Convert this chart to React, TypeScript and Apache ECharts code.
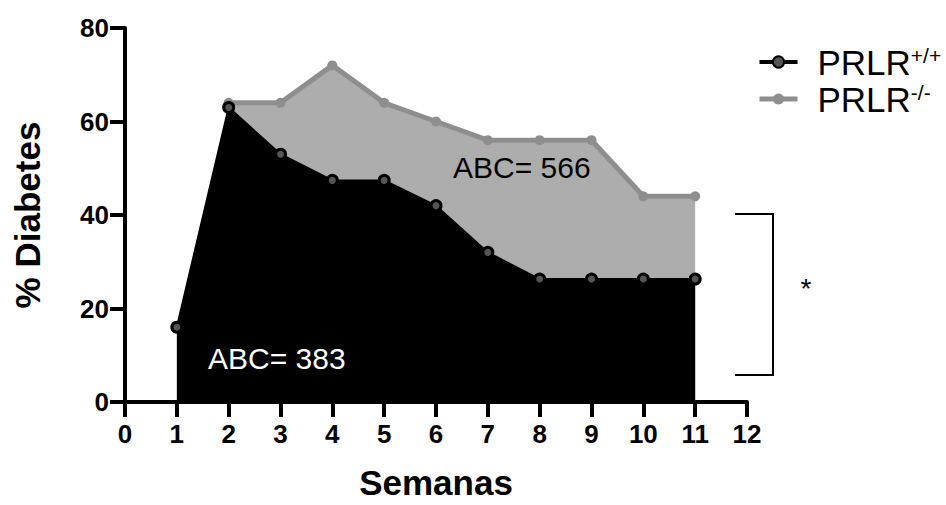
import React, { useEffect, useRef } from "react";
import * as echarts from "echarts";

const weeksWT = [1, 2, 3, 4, 5, 6, 7, 8, 9, 10, 11];
const valuesWT = [16, 63, 53, 47.4, 47.4, 42, 32, 26.3, 26.3, 26.3, 26.3];
const weeksKO = [2, 3, 4, 5, 6, 7, 8, 9, 10, 11];
const valuesKO = [64, 64, 72, 64, 60, 56, 56, 56, 44, 44];
const xTicks = [0, 1, 2, 3, 4, 5, 6, 7, 8, 9, 10, 11, 12];
const yTicks = [0, 20, 40, 60, 80];
const seriesNames = ["PRLR+/+", "PRLR-/-"];
const abcWT = "ABC= 383";
const abcKO = "ABC= 566";

const FONT = "'Liberation Sans', Arial, Helvetica, sans-serif";

export default function App() {
  const ref = useRef<HTMLDivElement>(null);
  useEffect(() => {
    const chart = echarts.init(ref.current!, null, { renderer: "svg" });
    const axisLine = { show: true, lineStyle: { color: "#000", width: 4 } };
    const axisTick = { show: true, length: 15, lineStyle: { color: "#000", width: 4 } };
    chart.setOption({
      animation: false,
      backgroundColor: "#fff",
      grid: { left: 125, right: 199, top: 28, bottom: 100, containLabel: false },
      legend: {
        left: 752,
        top: 40,
        orient: "vertical",
        itemGap: 2,
        itemWidth: 38,
        itemHeight: 14,
        data: [
          { name: seriesNames[0], lineStyle: { width: 4 } },
          { name: seriesNames[1], lineStyle: { width: 5 } },
        ],
        formatter: (name: string) => `{a|PRLR}{b|${name.slice(4)}}`,
        textStyle: {
          fontFamily: FONT,
          rich: {
            a: { fontFamily: FONT, fontSize: 35, color: "#000", verticalAlign: "bottom", lineHeight: 36, padding: [0, 0, 0, 15] },
            b: { fontFamily: FONT, fontSize: 21, color: "#000", verticalAlign: "bottom", lineHeight: 20, padding: [0, 0, 14, 0] },
          },
        },
      },
      xAxis: {
        type: "value",
        min: 0,
        max: 12,
        interval: 1,
        name: "Semanas",
        nameLocation: "middle",
        nameGap: 63,
        nameTextStyle: { fontFamily: FONT, fontSize: 35, fontWeight: "bold", color: "#000" },
        axisLine,
        axisTick,
        splitLine: { show: false },
        axisLabel: {
          margin: 19,
          fontFamily: FONT,
          fontSize: 26,
          fontWeight: "bold",
          color: "#000",
          formatter: (v: number) => (xTicks.includes(v) ? String(v) : ""),
        },
      },
      yAxis: {
        type: "value",
        min: 0,
        max: 80,
        interval: 20,
        name: "% Diabetes",
        nameLocation: "middle",
        nameGap: 80,
        nameTextStyle: { fontFamily: FONT, fontSize: 35, fontWeight: "bold", color: "#000" },
        axisLine,
        axisTick,
        splitLine: { show: false },
        axisLabel: {
          margin: 16,
          fontFamily: FONT,
          fontSize: 26,
          fontWeight: "bold",
          color: "#000",
          formatter: (v: number) => (yTicks.includes(v) ? String(v) : ""),
        },
      },
      series: [
        {
          name: seriesNames[1],
          type: "line",
          data: weeksKO.map((w, i) => [w, valuesKO[i]]),
          symbol: "circle",
          symbolSize: 10,
          lineStyle: { color: "#8e8e8e", width: 5 },
          itemStyle: { color: "#8e8e8e" },
          areaStyle: { color: "#adadad", opacity: 1 },
          z: 2,
        },
        {
          name: seriesNames[0],
          type: "line",
          data: weeksWT.map((w, i) => [w, valuesWT[i]]),
          symbol: "circle",
          symbolSize: 10,
          lineStyle: { color: "#000", width: 2 },
          itemStyle: { color: "#555", borderColor: "#000", borderWidth: 3 },
          areaStyle: { color: "#000", opacity: 1 },
          z: 3,
        },
      ],
      graphic: [
        {
          type: "text",
          x: 453,
          y: 167,
          style: { text: abcKO, fontFamily: FONT, fontSize: 30, fill: "#000", verticalAlign: "middle", align: "left" },
          z: 10,
        },
        {
          type: "text",
          x: 208,
          y: 358,
          style: { text: abcWT, fontFamily: FONT, fontSize: 30, fill: "#fff", verticalAlign: "middle", align: "left" },
          z: 10,
        },
        {
          type: "polyline",
          shape: { points: [[735, 214], [773, 214], [773, 375], [735, 375]] },
          style: { stroke: "#000", lineWidth: 2, fill: null },
          z: 10,
        },
        {
          type: "text",
          x: 806,
          y: 288,
          style: { text: "*", fontFamily: FONT, fontSize: 28, fill: "#000", verticalAlign: "middle", align: "center" },
          z: 10,
        },
      ],
    });
    return () => chart.dispose();
  }, []);
  return <div ref={ref} style={{ position: "absolute", left: 0, top: 0, width: 946, height: 505 }} />;
}
